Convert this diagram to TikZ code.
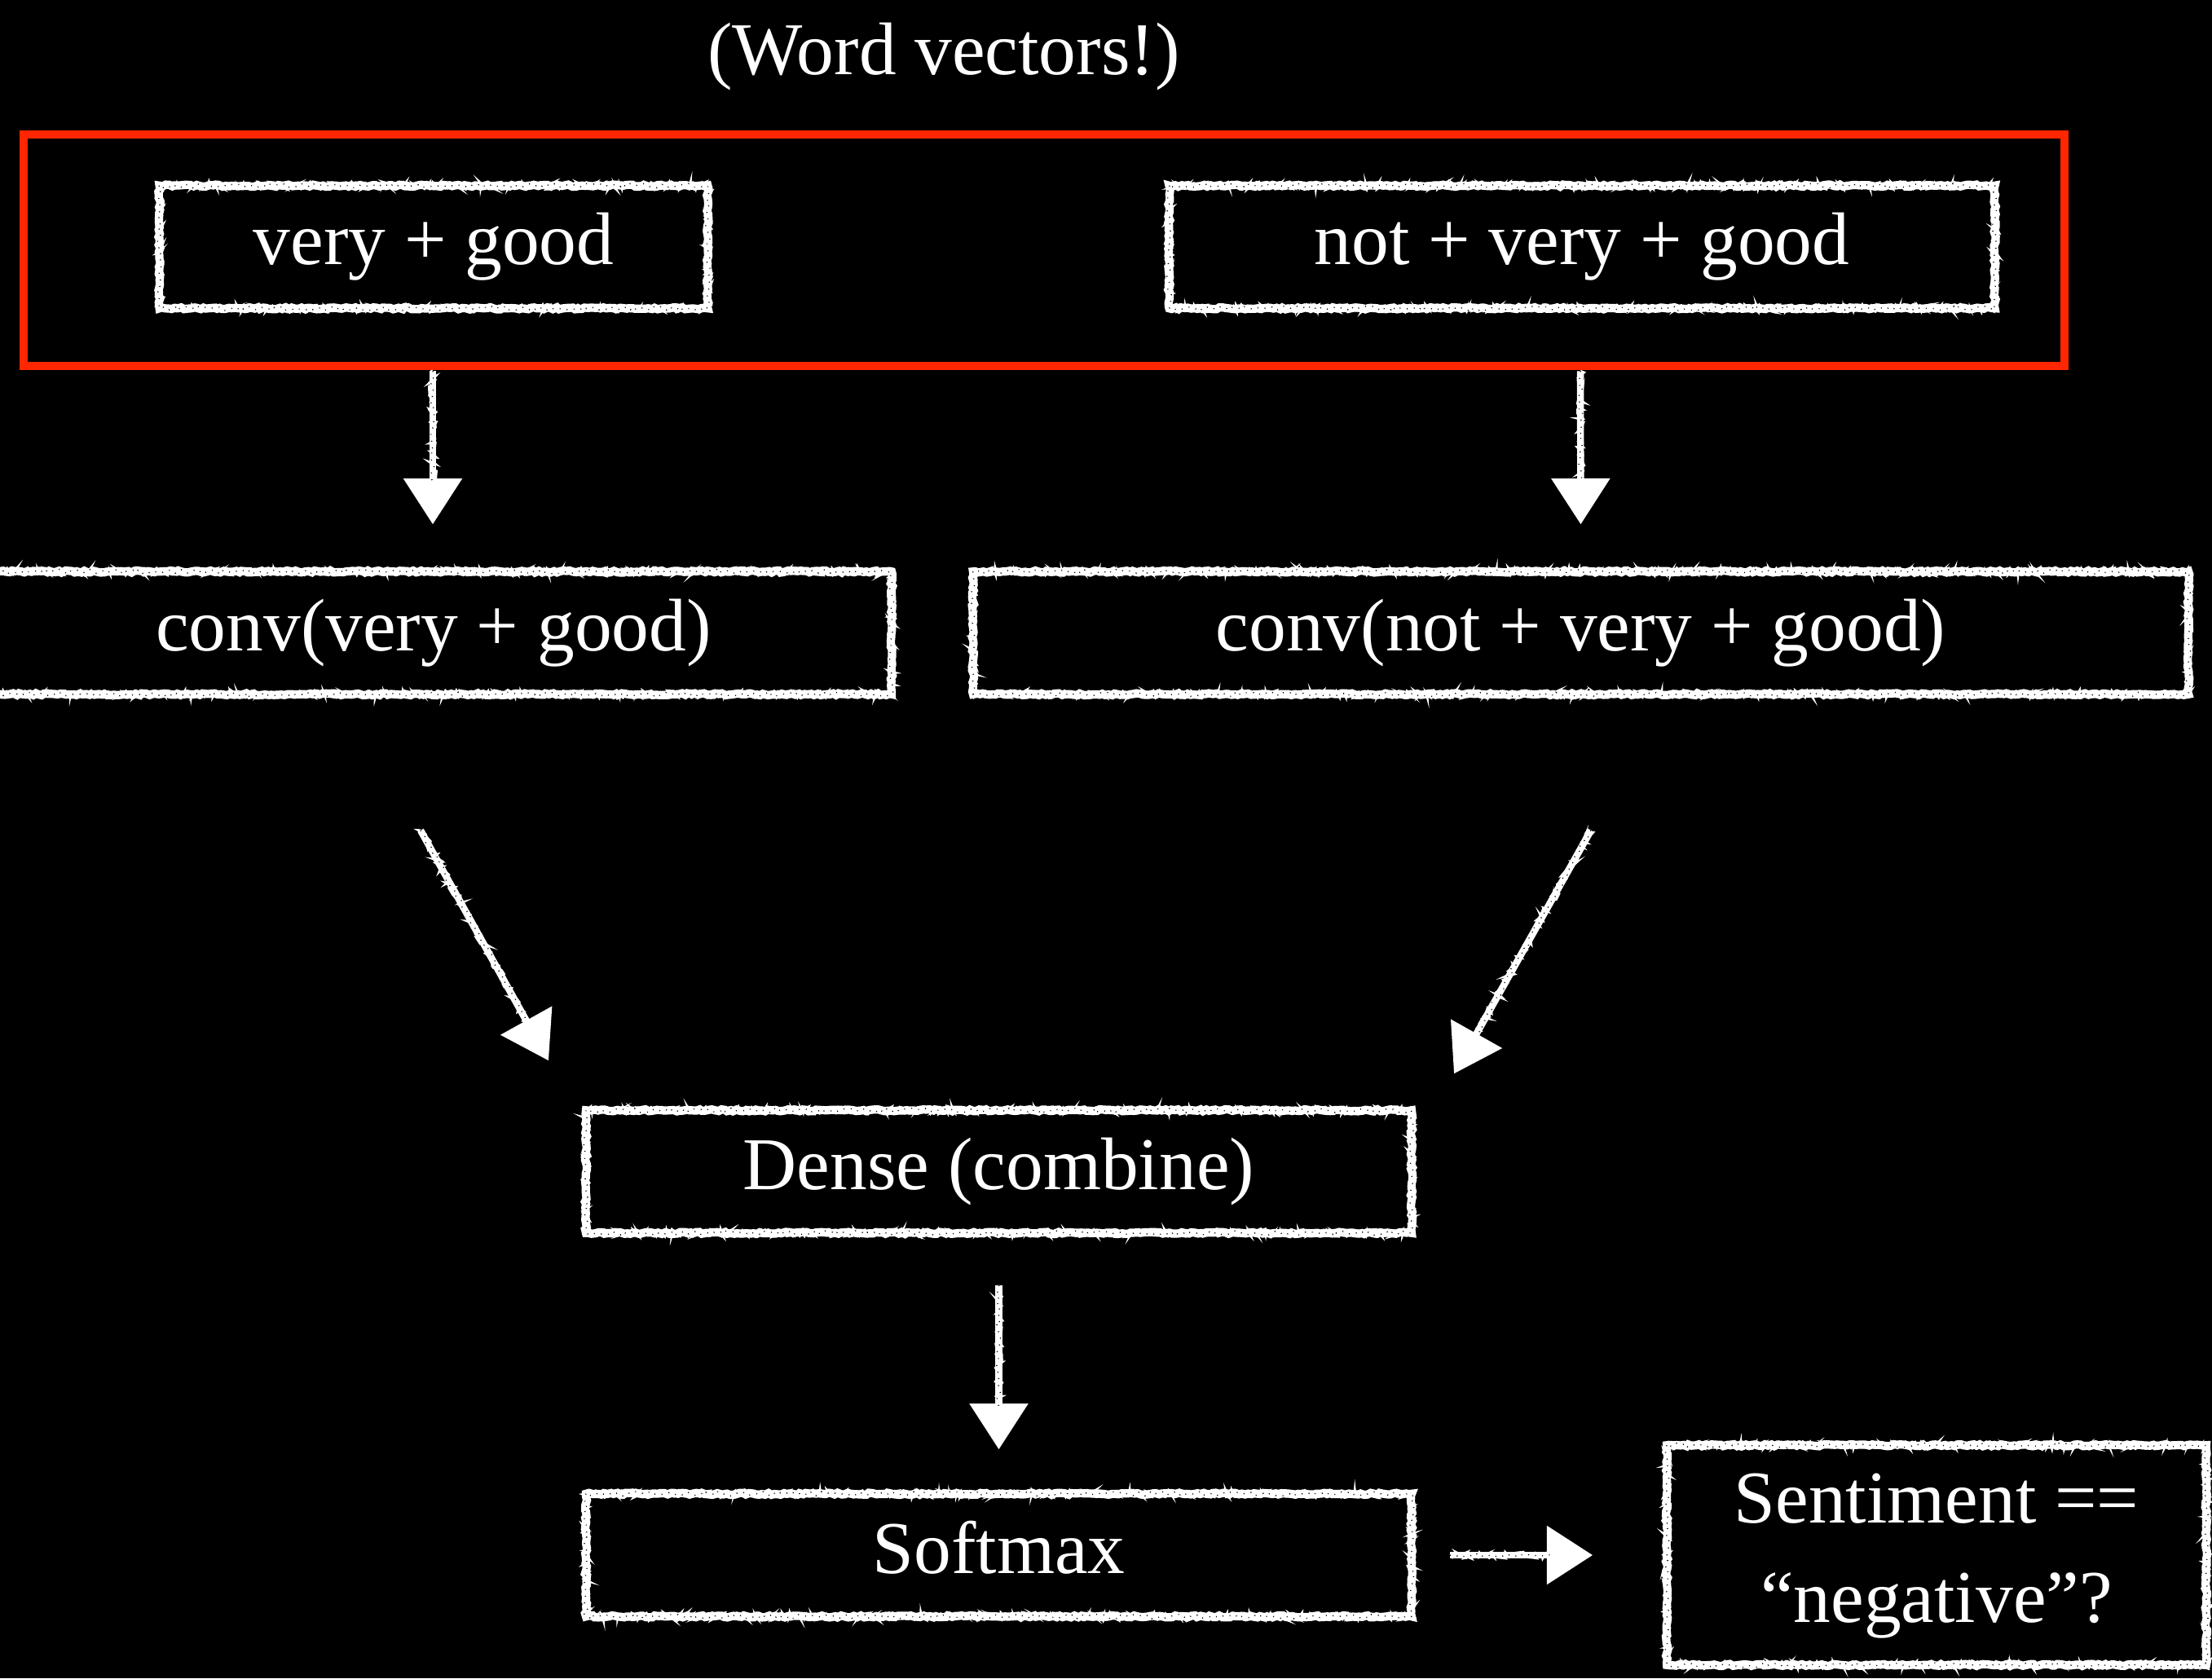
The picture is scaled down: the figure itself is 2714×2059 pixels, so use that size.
\documentclass[tikz,border=0pt]{standalone}
\usepackage{fontspec}
\setmainfont{Liberation Serif}
\usetikzlibrary{arrows.meta,decorations.pathmorphing,calc}
\definecolor{framered}{RGB}{255,38,0}
\pgfmathsetseed{4217}
\begin{document}
\begin{tikzpicture}[
  x=0.01cm, y=-0.01cm,
  txt/.style={text=white, font=\fontsize{26}{35}\selectfont, inner sep=0pt},
  box/.style={txt, text height=18pt, text depth=5.5pt, minimum height=1.49cm},
  chalk/.style={draw=white, line width=2.9pt, decorate,
    decoration={random steps, segment length=1.1pt, amplitude=0.35pt}},
  chalkedge/.style={draw=white, line width=0.8pt, decorate,
    decoration={random steps, segment length=0.7pt, amplitude=1.3pt}},
  grain/.style={draw=black, line width=0.4pt, dash pattern=on 0.3pt off 2.2pt, decorate,
    decoration={random steps, segment length=1.3pt, amplitude=0.8pt}},
  flow/.style={draw=white, line width=2.4pt, -{Triangle[width=20pt,length=16pt]}},
]
% blackboard
\fill[black] (0,0) rectangle (2714,2059);
\useasboundingbox (0,0) rectangle (2714,2059);

% title and the red frame around the word-vector inputs
\node[txt, anchor=base] (title) at (1158,91) {(Word vectors!)};
\node[draw=framered, line width=2.85pt, minimum width=25.02cm, minimum height=2.84cm,
      inner sep=0pt] (vectors) at (1281,307) {};

% boxes
\node[box, minimum width=6.71cm]  (va)    at (532,303)      {very + good};
\node[box, minimum width=10.11cm] (nvg)   at (1941,303)     {not + very + good};
\node[box, minimum width=11.22cm] (cva)   at (532,776.5)    {conv(very + good)};
\node[box, minimum width=14.89cm] (cnvg)  at (1939.5,776.5) {conv(not + very + good)};
\node[box, minimum width=10.11cm] (dense) at (1225.5,1437.5){Dense (combine)};
\node[box, minimum width=10.11cm] (soft)  at (1225.5,1908)  {Softmax};
\node[txt, minimum width=6.6cm, minimum height=2.68cm] (sent) at (2376,1908) {};
\node[txt, anchor=base] (sent1) at (2376,1868) {Sentiment ==};
\node[txt, anchor=base] (sent2) at (2376,1990) {“negative”?};

% chalk borders
\foreach \n in {va,nvg,cva,cnvg,dense,soft,sent}{
  \draw[chalk] (\n.north west) rectangle (\n.south east);
  \draw[chalkedge] (\n.north west) rectangle (\n.south east);
  \draw[grain] (\n.north west) rectangle (\n.south east);
}

% arrow ends
\coordinate (va-out)    at ($(va.south)+(-1,77)$);
\coordinate (cva-in)    at ($(cva.north)+(-1,-58)$);
\coordinate (nvg-out)   at ($(nvg.south)+(-2,77)$);
\coordinate (cnvg-in)   at ($(cnvg.north)+(0,-58)$);
\coordinate (cva-out)   at ($(cva.south)+(-16,167)$);
\coordinate (dense-inl) at ($(dense.north)+(-552.5,-61)$);
\coordinate (cnvg-out)  at ($(cnvg.south)+(12.5,167)$);
\coordinate (dense-inr) at ($(dense.north)+(558.5,-45)$);
\coordinate (dense-out) at ($(dense.south)+(0,64)$);
\coordinate (soft-in)   at ($(soft.north)+(0,-54.5)$);
\coordinate (soft-out)  at ($(soft.east)+(47,0)$);
\coordinate (sent-in)   at ($(sent.west)+(-91,0)$);

% chalk arrows
\foreach \a/\b in {va-out/cva-in, nvg-out/cnvg-in, cva-out/dense-inl,
                   cnvg-out/dense-inr, dense-out/soft-in, soft-out/sent-in}{
  \draw[flow] (\a) -- (\b);
  \draw[chalkedge] (\a) -- ($(\b)!15pt!(\a)$);
  \draw[grain] (\a) -- ($(\b)!15pt!(\a)$);
}
\end{tikzpicture}
\end{document}
